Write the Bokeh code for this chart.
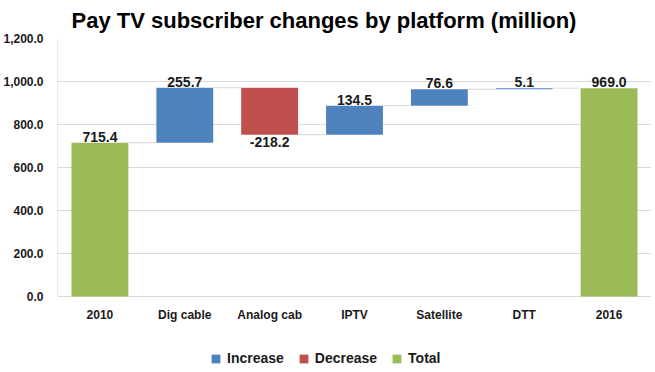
from bokeh.plotting import figure
from bokeh.models import ColumnDataSource, FixedTicker, NumeralTickFormatter, Range1d, Legend, LegendItem
from bokeh.core.properties import value
from bokeh.embed import file_html
from bokeh.resources import INLINE

categories = ["2010", "Dig cable", "Analog cab", "IPTV", "Satellite", "DTT", "2016"]
changes = [715.4, 255.7, -218.2, 134.5, 76.6, 5.1, 969.0]
kinds = ["Total", "Increase", "Decrease", "Increase", "Increase", "Increase", "Total"]
labels = ["715.4", "255.7", "-218.2", "134.5", "76.6", "5.1", "969.0"]
y_ticks = [0, 200, 400, 600, 800, 1000, 1200]

colors = {"Increase": "#4F81BD", "Decrease": "#C0504D", "Total": "#9BBB59"}
BW = 0.67
PLOT_PX = 258          # pixels for the 0..1200 span
EXTRA_PX = 72          # room below zero for category labels and legend
Y_MAX = 1200
Y_MIN = -EXTRA_PX * Y_MAX / PLOT_PX

bottoms, tops = [], []
running = 0.0
for v, k in zip(changes, kinds):
    if k == "Total":
        bottoms.append(0.0)
        tops.append(v)
        running = v
    else:
        bottoms.append(running)
        running += v
        tops.append(running)
        if v < 0:
            bottoms[-1], tops[-1] = running, bottoms[-1]

p = figure(frame_width=594, frame_height=PLOT_PX + EXTRA_PX, output_backend="svg", toolbar_location=None,
           x_range=Range1d(-0.5, 6.5), y_range=Range1d(Y_MIN, Y_MAX),
           min_border_left=55, min_border_right=0, min_border_top=0, min_border_bottom=0)
p.outline_line_color = None
p.background_fill_color = "white"

renderers = {}
for k in ["Increase", "Decrease", "Total"]:
    idx = [i for i, kk in enumerate(kinds) if kk == k]
    src = ColumnDataSource(dict(x=idx, b=[bottoms[i] for i in idx], t=[tops[i] for i in idx]))
    renderers[k] = p.vbar(x="x", bottom="b", top="t", width=BW, source=src,
                          fill_color=colors[k], line_color=None)

# left axis line (0..1200 only)
p.segment(x0=[-0.5], y0=[0], x1=[-0.5], y1=[Y_MAX], line_color="#D9D9D9", line_width=1)

# connectors
x0s, x1s, ys = [], [], []
running = 0.0
for i, (v, k) in enumerate(zip(changes, kinds)):
    running = v if k == "Total" else running + v
    if i < len(changes) - 1:
        x0s.append(i + BW / 2)
        x1s.append(i + 1 - BW / 2)
        ys.append(running)
p.segment(x0=x0s, y0=ys, x1=x1s, y1=ys, line_color="#D9D9D9", line_width=1)

# value labels
up_idx = [i for i, c in enumerate(changes) if c >= 0]
dn_idx = [i for i, c in enumerate(changes) if c < 0]
p.text(x=up_idx, y=[tops[i] for i in up_idx], text=[labels[i] for i in up_idx],
       text_align="center", text_baseline="bottom", y_offset=-1,
       text_font_size="14px", text_font_style="bold", text_color="#1a1a1a",
       text_font=value("Liberation Sans"))
p.text(x=dn_idx, y=[bottoms[i] for i in dn_idx], text=[labels[i] for i in dn_idx],
       text_align="center", text_baseline="top", y_offset=2,
       text_font_size="14px", text_font_style="bold", text_color="#1a1a1a",
       text_font=value("Liberation Sans"))

# category labels
p.text(x=list(range(len(categories))), y=[0] * len(categories), text=categories,
       text_align="center", text_baseline="middle", y_offset=18,
       text_font_size="12px", text_font_style="bold", text_color="#1a1a1a",
       text_font=value("Liberation Sans"))

p.xaxis.visible = False
p.xgrid.grid_line_color = None

p.yaxis.ticker = FixedTicker(ticks=y_ticks)
p.yaxis.formatter = NumeralTickFormatter(format="0,0.0")
p.yaxis.axis_line_color = None
p.yaxis.major_tick_line_color = None
p.yaxis.minor_tick_line_color = None
p.yaxis.major_label_text_font_style = "bold"
p.yaxis.major_label_text_font_size = "12px"
p.yaxis.major_label_text_font = "Liberation Sans"
p.yaxis.major_label_text_color = "#1a1a1a"
p.yaxis.major_label_standoff = 8
p.ygrid.ticker = FixedTicker(ticks=y_ticks)
p.ygrid.grid_line_color = "#D9D9D9"

p.title.text = "Pay TV subscriber changes by platform (million)"
p.title.text_font = "Liberation Sans"
p.title.text_font_size = "22px"
p.title.text_font_style = "bold"
p.title.text_color = "#000000"
p.title.align = "left"
p.title.offset = 14
p.title.standoff = 11

legend = Legend(items=[LegendItem(label=k, renderers=[renderers[k]]) for k in ["Increase", "Decrease", "Total"]],
                orientation="horizontal", location=(153, 2),
                label_text_font="Liberation Sans", label_text_font_style="bold",
                label_text_font_size="14px", label_text_color="#1a1a1a",
                glyph_width=11, glyph_height=11, spacing=14, label_standoff=6,
                border_line_color=None, background_fill_alpha=0, margin=0, padding=4)
p.add_layout(legend, "center")

open("out.html", "w").write(file_html(p, INLINE))
